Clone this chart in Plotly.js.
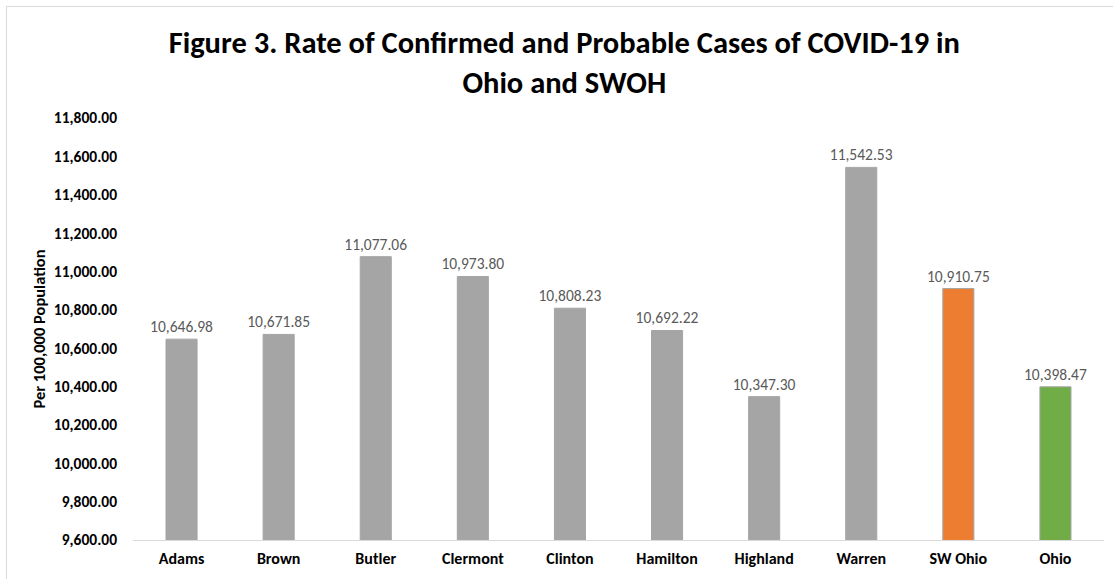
<!DOCTYPE html>
<html>
<head>
<meta charset="utf-8">
<script src="https://cdn.plot.ly/plotly-3.0.1.min.js"></script>
<style>
  html, body { margin: 0; padding: 0; background: #fff; }
  #wrap { position: relative; width: 1113px; height: 579px; overflow: hidden; }
  #frame { position: absolute; left: 6px; top: 6px; width: 1200px; height: 700px;
           border-top: 1px solid #d9d9d9; border-left: 1px solid #d9d9d9; pointer-events: none; }
  #chart { position: absolute; left: 0; top: 0; width: 1113px; height: 579px; }
</style>
</head>
<body>
<div id="wrap">
  <div id="chart"></div>
  <div id="frame"></div>
</div>
<script>
const categories = ["Adams", "Brown", "Butler", "Clermont", "Clinton", "Hamilton", "Highland", "Warren", "SW Ohio", "Ohio"];
const rates = [10646.98, 10671.85, 11077.06, 10973.80, 10808.23, 10692.22, 10347.30, 11542.53, 10910.75, 10398.47];
const barColors = ["#a5a5a5", "#a5a5a5", "#a5a5a5", "#a5a5a5", "#a5a5a5", "#a5a5a5", "#a5a5a5", "#a5a5a5", "#ed7d31", "#70ad47"];
const yTickVals = [9600, 9800, 10000, 10200, 10400, 10600, 10800, 11000, 11200, 11400, 11600, 11800];

const FONT = "Carlito, Lato, 'Liberation Sans', sans-serif";

const trace = {
  type: "bar",
  x: categories,
  y: rates,
  marker: { color: barColors, line: { color: "#a5a5a5", width: 1 } },
  texttemplate: "%{y:,.2f}",
  textposition: "outside",
  constraintext: "none",
  cliponaxis: true,
  textfont: { family: FONT, size: 15.5, color: "#595959" },
  outsidetextfont: { family: FONT, size: 15.5, color: "#595959" },
  hoverinfo: "x+y"
};

const layout = {
  width: 1113,
  height: 579,
  margin: { l: 133, r: 9, t: 118, b: 39, pad: 0 },
  paper_bgcolor: "#ffffff",
  plot_bgcolor: "#ffffff",
  showlegend: false,
  bargap: 0.68,
  font: { family: FONT, color: "#000000" },
  title: {
    text: "Figure 3. Rate of Confirmed and Probable Cases of COVID-19 in<br>Ohio and SWOH",
    font: { family: FONT, size: 30.5, color: "#000000", weight: "bold" },
    x: 0.507, xref: "container", xanchor: "center",
    y: 0.908, yref: "container", yanchor: "middle"
  },
  xaxis: {
    type: "category",
    showgrid: false,
    showline: true,
    linecolor: "#d9d9d9",
    linewidth: 1,
    ticks: "",
    ticklabelstandoff: 4,
    tickfont: { family: FONT, size: 16, color: "#000000", weight: "bold" },
    zeroline: false
  },
  yaxis: {
    range: [9600, 11800],
    tickvals: yTickVals,
    tickformat: ",.2f",
    showgrid: false,
    showline: false,
    zeroline: false,
    ticks: "",
    ticklabelstandoff: 15,
    tickfont: { family: FONT, size: 15.5, color: "#000000", weight: "bold" },
    title: {
      text: "Per 100,000 Population",
      font: { family: FONT, size: 16.5, color: "#000000", weight: "bold" },
      standoff: 4
    }
  }
};

Plotly.newPlot("chart", [trace], layout, { displayModeBar: false, staticPlot: true });
</script>
</body>
</html>
